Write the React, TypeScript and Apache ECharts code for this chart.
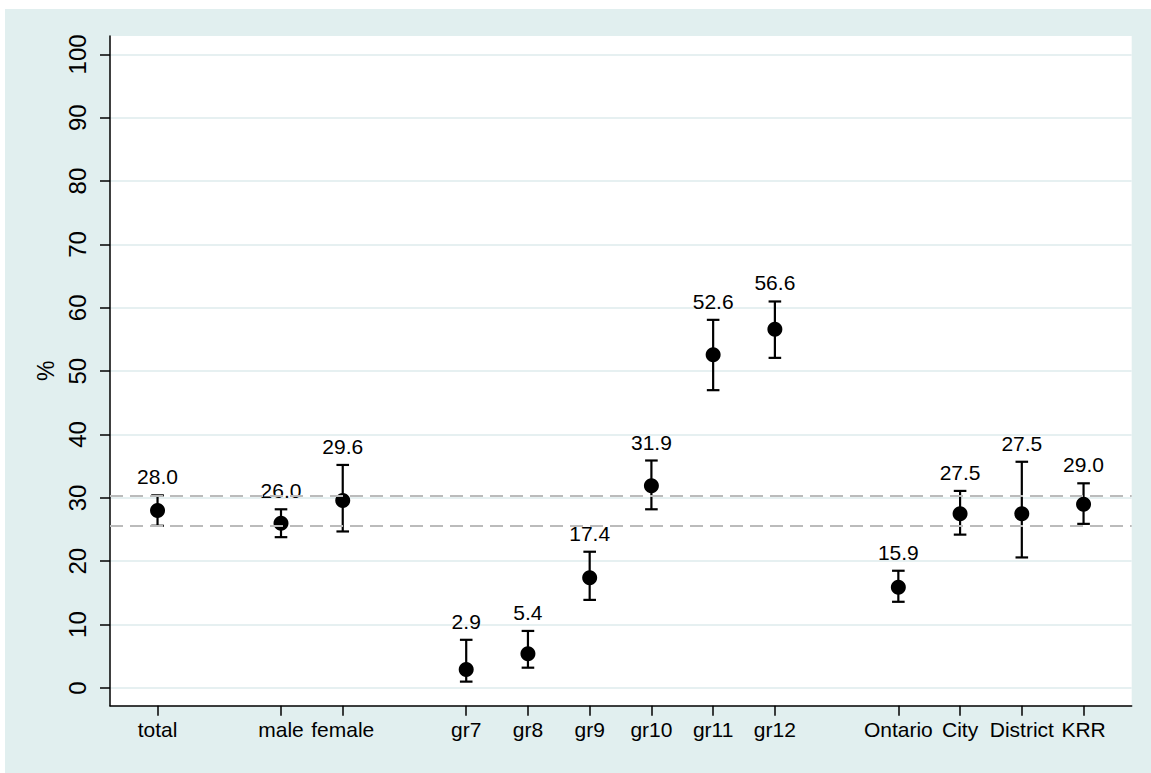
import React, { useEffect, useRef } from "react";
import * as echarts from "echarts";

const categories = ["total", "", "male", "female", "", "gr7", "gr8", "gr9", "gr10", "gr11", "gr12", "", "Ontario", "City", "District", "KRR"];
const estimates = [28.0, null, 26.0, 29.6, null, 2.9, 5.4, 17.4, 31.9, 52.6, 56.6, null, 15.9, 27.5, 27.5, 29.0];
const lowerCI = [25.6, null, 23.8, 24.7, null, 1.0, 3.2, 13.9, 28.2, 47.0, 52.1, null, 13.6, 24.2, 20.6, 25.9];
const upperCI = [30.4, null, 28.2, 35.2, null, 7.6, 9.0, 21.5, 35.9, 58.1, 61.0, null, 18.5, 31.1, 35.7, 32.3];
const yTicks = [0, 10, 20, 30, 40, 50, 60, 70, 80, 90, 100];
const yTitle = "%";

const FONT = "'Liberation Sans', Arial, Helvetica, sans-serif";

export default function App() {
  const ref = useRef<HTMLDivElement>(null);
  useEffect(() => {
    if (!ref.current) return;
    const chart = echarts.init(ref.current, undefined, { renderer: "svg" });
    const xTicks: number[] = [];
    categories.forEach((c, i) => { if (c) xTicks.push(i); });
    const errData: number[][] = [];
    const ptData: number[][] = [];
    categories.forEach((c, i) => {
      if (estimates[i] != null) {
        errData.push([i, lowerCI[i] as number, upperCI[i] as number, estimates[i] as number]);
        ptData.push([i, estimates[i] as number]);
      }
    });
    chart.setOption({
      animation: false,
      backgroundColor: "transparent",
      grid: {
        left: 105, top: 27, right: 19.3, bottom: 67.3,
        show: true, backgroundColor: "#ffffff", borderWidth: 0,
      },
      xAxis: {
        type: "value",
        min: -0.77, max: 15.78,
        axisLine: { show: true, onZero: false, lineStyle: { color: "#000", width: 1.5 } },
        axisTick: { show: true, customValues: xTicks, length: 10, lineStyle: { color: "#000", width: 1.5 } },
        axisLabel: {
          customValues: xTicks, margin: 13,
          formatter: (v: number) => categories[Math.round(v)] ?? "",
          color: "#000", fontSize: 21, fontFamily: FONT,
        },
        splitLine: { show: false },
      },
      yAxis: {
        type: "value",
        min: -2.8, max: 102.9,
        name: yTitle, nameLocation: "middle", nameRotate: 90, nameGap: 50,
        nameTextStyle: { color: "#000", fontSize: 23, fontFamily: FONT },
        axisLine: { show: true, onZero: false, lineStyle: { color: "#000", width: 1.5 } },
        axisTick: { show: true, customValues: yTicks, length: 10, lineStyle: { color: "#000", width: 1.5 } },
        axisLabel: {
          customValues: yTicks, rotate: 90, margin: 21,
          color: "#000", fontSize: 24, fontFamily: FONT,
        },
        splitLine: { show: true, lineStyle: { color: "#E6F0F1", width: 2 } },
      },
      series: [
        {
          type: "line",
          data: [],
          z: 1,
          silent: true,
          markLine: {
            silent: true,
            symbol: "none",
            label: { show: false },
            lineStyle: { type: [13, 7], color: "#BBBBBB", width: 2 },
            data: [{ yAxis: upperCI[0] }, { yAxis: lowerCI[0] }],
          },
        },
        {
          type: "custom",
          z: 2,
          silent: true,
          data: errData,
          renderItem: (params: any, api: any) => {
            const x = api.value(0), lo = api.value(1), hi = api.value(2), est = api.value(3);
            const pLo = api.coord([x, lo]);
            const pHi = api.coord([x, hi]);
            const hw = 6.3;
            const st = { stroke: "#000", lineWidth: 2.2 };
            return {
              type: "group",
              children: [
                { type: "line", shape: { x1: pLo[0], y1: pLo[1], x2: pHi[0], y2: pHi[1] }, style: st },
                { type: "line", shape: { x1: pLo[0] - hw, y1: pLo[1], x2: pLo[0] + hw, y2: pLo[1] }, style: st },
                { type: "line", shape: { x1: pHi[0] - hw, y1: pHi[1], x2: pHi[0] + hw, y2: pHi[1] }, style: st },
                {
                  type: "text", x: pHi[0], y: pHi[1] - 8,
                  style: { text: Number(est).toFixed(1), textAlign: "center", textVerticalAlign: "bottom", fontSize: 21, fontFamily: FONT, fill: "#000" },
                },
              ],
            };
          },
        },
        {
          type: "scatter",
          z: 3,
          data: ptData,
          symbol: "circle",
          symbolSize: 15,
          itemStyle: { color: "#000", opacity: 1 },
        },
      ],
    });
    return () => chart.dispose();
  }, []);
  return (
    <div
      ref={ref}
      style={{ position: "absolute", left: 5, top: 9, width: 1146, height: 764, background: "#E1EFEF" }}
    />
  );
}
